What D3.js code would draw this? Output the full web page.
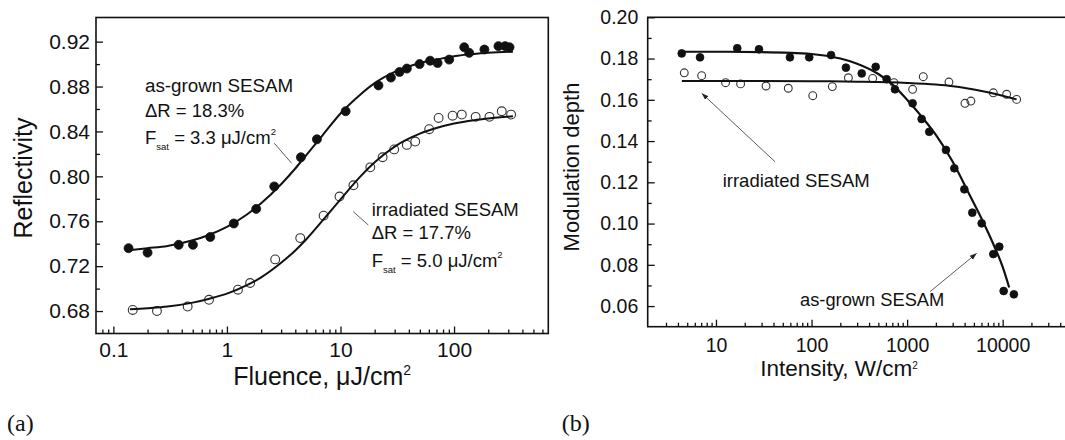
<!DOCTYPE html>
<html>
<head>
<meta charset="utf-8">
<script src="https://cdn.jsdelivr.net/npm/d3@7"></script>
<style>
  body { margin: 0; background: #fff; }
  text { font-family: "Liberation Sans", Arial, sans-serif; fill: #111; }
  .serif { font-family: "Liberation Serif", "Times New Roman", serif; }
</style>
</head>
<body>
<svg id="chart" width="1065" height="440"></svg>
<script>
// ---------- Panel (a): reflectivity vs. fluence ----------
const fluenceAsGrown = [0.136, 0.200, 0.376, 0.502, 0.713, 1.15, 1.81, 2.61, 4.48, 6.2, 11.1, 21.6, 27.8, 33.1, 38.4, 49.7, 61.6, 71.6, 90.6, 123, 136, 185, 246, 282, 308];
const reflAsGrown    = [0.736, 0.732, 0.739, 0.739, 0.746, 0.758, 0.771, 0.791, 0.817, 0.833, 0.858, 0.881, 0.888, 0.893, 0.896, 0.900, 0.903, 0.901, 0.904, 0.915, 0.910, 0.913, 0.916, 0.916, 0.915];

const fluenceIrradiated = [0.148, 0.242, 0.451, 0.695, 1.25, 1.60, 2.66, 4.42, 7.1, 9.8, 13.0, 18.3, 23.5, 29.7, 38.4, 45.5, 60.4, 73.1, 97.1, 117, 155, 205, 263, 318];
const reflIrradiated    = [0.681, 0.680, 0.684, 0.690, 0.699, 0.705, 0.726, 0.745, 0.765, 0.782, 0.792, 0.808, 0.817, 0.824, 0.828, 0.831, 0.842, 0.852, 0.854, 0.855, 0.853, 0.853, 0.858, 0.855];

// saturation fits (ΔR = 18.3 %, Fsat = 3.3 µJ/cm² and ΔR = 17.7 %, Fsat = 5.0 µJ/cm²)
const fitFluenceAsGrown = [0.13, 0.2, 0.3, 0.5, 0.7, 1, 1.5, 2, 3, 4, 5, 7, 10, 15, 20, 30, 50, 70, 100, 150, 200, 330];
const fitReflAsGrown    = [0.734, 0.736, 0.738, 0.743, 0.748, 0.755, 0.766, 0.776, 0.793, 0.807, 0.819, 0.837, 0.856, 0.873, 0.883, 0.893, 0.901, 0.904, 0.907, 0.909, 0.910, 0.911];
const fitFluenceIrradiated = [0.14, 0.2, 0.3, 0.5, 0.7, 1, 1.5, 2, 3, 4, 5, 7, 10, 15, 20, 30, 50, 70, 100, 150, 200, 330];
const fitReflIrradiated    = [0.6815, 0.6825, 0.684, 0.6875, 0.691, 0.6955, 0.703, 0.710, 0.723, 0.734, 0.744, 0.761, 0.7795, 0.800, 0.8125, 0.8265, 0.838, 0.843, 0.847, 0.850, 0.8515, 0.8535];

const fluenceTicks = [0.1, 1, 10, 100];
const reflTicks = [0.68, 0.72, 0.76, 0.80, 0.84, 0.88, 0.92];

// ---------- Panel (b): modulation depth vs. intensity ----------
const intensityAsGrown = [4.38, 6.81, 16.7, 28.2, 59.4, 94.6, 160, 229, 335, 469, 611, 746, 1142, 1420, 1705, 2550, 3120, 3970, 4810, 6030, 7980, 9220, 10240, 13100];
const modAsGrown       = [0.1825, 0.1806, 0.185, 0.1845, 0.1806, 0.1806, 0.1817, 0.1756, 0.1728, 0.176, 0.170, 0.1651, 0.1583, 0.1507, 0.1445, 0.1357, 0.1268, 0.1166, 0.1053, 0.1001, 0.0852, 0.0888, 0.0673, 0.0657];

const intensityIrradiated = [4.66, 7.08, 12.6, 18.1, 33.4, 57.1, 103, 165, 243, 436, 728, 1142, 1476, 2740, 4030, 4650, 7980, 11000, 14000];
const modIrradiated       = [0.1731, 0.1717, 0.1683, 0.1677, 0.1667, 0.1656, 0.162, 0.1664, 0.1707, 0.1704, 0.1683, 0.1651, 0.1712, 0.1686, 0.1583, 0.1594, 0.1634, 0.1627, 0.1602];

const fitIntensityAsGrown = [4.4, 10, 30, 100, 200, 300, 500, 700, 1000, 1500, 2000, 3000, 4500, 6000, 8000, 10000, 11700];
const fitModAsGrown       = [0.1833, 0.1833, 0.1831, 0.1822, 0.1800, 0.1775, 0.1725, 0.1675, 0.1600, 0.1505, 0.1430, 0.1300, 0.1140, 0.1025, 0.0900, 0.0790, 0.0690];
const fitIntensityIrradiated = [4.4, 30, 100, 300, 1000, 2000, 3000, 5000, 7000, 10000, 14000];
const fitModIrradiated       = [0.1691, 0.1691, 0.1690, 0.1688, 0.1682, 0.1674, 0.1666, 0.1650, 0.1637, 0.1620, 0.1602];

const intensityTicks = [10, 100, 1000, 10000];
const modTicks = [0.06, 0.08, 0.10, 0.12, 0.14, 0.16, 0.18, 0.20];

// ---------- layout ----------
const svg = d3.select("#chart");
const frameA = { left: 96, right: 548.3, top: 17.5, bottom: 333.5 };
const frameB = { left: 647.7, right: 1085, top: 17.3, bottom: 326.7 };

const xA = d3.scaleLog().domain([0.0703, 676]).range([frameA.left, frameA.right]);
const yA = d3.scaleLinear().domain([0.66, 0.9415]).range([frameA.bottom, frameA.top]);
const xB = d3.scaleLog().domain([1.93, 72700]).range([frameB.left, frameB.right]);
const yB = d3.scaleLinear().domain([0.05, 0.20]).range([frameB.bottom, frameB.top]);

function minorLogTicks(lo, hi) {
  const out = [];
  for (let p = Math.floor(Math.log10(lo)); p <= Math.ceil(Math.log10(hi)); p++) {
    for (let m = 2; m <= 9; m++) {
      const v = m * Math.pow(10, p);
      if (v > lo && v < hi) out.push(+v.toPrecision(3));
    }
  }
  return out;
}
function minorLinTicks(majors, step) {
  return majors.map(v => +(v + step).toFixed(3)).filter(v => v < majors[majors.length - 1]);
}

function drawAxes(x, y, frame, o) {
  const g = svg.append("g");
  // bottom axis, major & minor ticks pointing inward
  const bx = g.append("g").attr("transform", `translate(0,${frame.bottom})`)
    .call(d3.axisBottom(x).tickValues(o.xTicks).tickFormat(o.xFormat)
      .tickSize(-7).tickPadding(o.xPad));
  const bxm = g.append("g").attr("transform", `translate(0,${frame.bottom})`)
    .call(d3.axisBottom(x).tickValues(o.xMinor).tickFormat("").tickSize(-4));
  const ly = g.append("g").attr("transform", `translate(${frame.left},0)`)
    .call(d3.axisLeft(y).tickValues(o.yTicks).tickFormat(d3.format(".2f"))
      .tickSize(-7).tickPadding(o.yPad));
  const lym = g.append("g").attr("transform", `translate(${frame.left},0)`)
    .call(d3.axisLeft(y).tickValues(o.yMinor).tickFormat("").tickSize(-4));
  [bx, bxm, ly, lym].forEach(a => {
    a.select(".domain").remove();
    a.selectAll(".tick line").attr("stroke", "#111").attr("stroke-width", 1.3);
    a.selectAll(".tick text").attr("fill", "#111").attr("font-size", o.fontSize)
      .style("font-family", '"Liberation Sans", Arial, sans-serif');
  });
  // frame
  g.append("rect")
    .attr("x", frame.left).attr("y", frame.top)
    .attr("width", frame.right - frame.left).attr("height", frame.bottom - frame.top)
    .attr("fill", "none").attr("stroke", "#111").attr("stroke-width", 1.6);
}

drawAxes(xA, yA, frameA, {
  xTicks: fluenceTicks, xFormat: d => (d < 1 ? d3.format(".1f")(d) : d3.format("d")(d)),
  xMinor: minorLogTicks(0.0703, 676), xPad: 9,
  yTicks: reflTicks, yMinor: minorLinTicks(reflTicks, 0.02), yPad: 6,
  fontSize: 21
});
drawAxes(xB, yB, frameB, {
  xTicks: intensityTicks, xFormat: d3.format("d"),
  xMinor: minorLogTicks(2.5, 72700), xPad: 11.5,
  yTicks: modTicks, yMinor: minorLinTicks(modTicks, 0.01), yPad: 9.4,
  fontSize: 19.5
});

// ---------- marks ----------
function zip(xs, ys) { return xs.map((v, i) => [v, ys[i]]); }

function drawSeries(x, y, xs, ys, filled, r) {
  svg.append("g").selectAll("circle").data(zip(xs, ys)).join("circle")
    .attr("cx", d => x(d[0])).attr("cy", d => y(d[1])).attr("r", r)
    .attr("fill", filled ? "#111" : "none")
    .attr("stroke", filled ? "#111" : "#333")
    .attr("stroke-width", filled ? 0.8 : 1.1);
}
function drawFit(x, y, xs, ys, w) {
  const line = d3.line().x(d => x(d[0])).y(d => y(d[1])).curve(d3.curveMonotoneX);
  svg.append("path").datum(zip(xs, ys)).attr("d", line)
    .attr("fill", "none").attr("stroke", "#111").attr("stroke-width", w);
}

drawSeries(xA, yA, fluenceAsGrown, reflAsGrown, true, 4.5);
drawSeries(xA, yA, fluenceIrradiated, reflIrradiated, false, 4.4);
drawFit(xA, yA, fitFluenceAsGrown, fitReflAsGrown, 2);
drawFit(xA, yA, fitFluenceIrradiated, fitReflIrradiated, 2);

drawSeries(xB, yB, intensityAsGrown, modAsGrown, true, 3.9);
drawSeries(xB, yB, intensityIrradiated, modIrradiated, false, 3.9);
drawFit(xB, yB, fitIntensityAsGrown, fitModAsGrown, 2.2);
drawFit(xB, yB, fitIntensityIrradiated, fitModIrradiated, 2);

// ---------- annotations ----------
const defs = svg.append("defs");
defs.append("marker").attr("id", "head").attr("viewBox", "0 0 10 10")
  .attr("refX", 10).attr("refY", 5).attr("markerWidth", 7).attr("markerHeight", 7)
  .attr("markerUnits", "userSpaceOnUse").attr("orient", "auto")
  .append("path").attr("d", "M0,1.5 L10,5 L0,8.5 Z").attr("fill", "#222");

function label(xp, yp, str, size) {
  return svg.append("text").attr("x", xp).attr("y", yp).attr("font-size", size).text(str);
}
function fsatLabel(xp, yp, value) {
  const t = svg.append("text").attr("x", xp).attr("y", yp).attr("font-size", 18.5);
  t.append("tspan").text("F");
  t.append("tspan").attr("font-size", 9.5).attr("dy", 6).text("sat");
  t.append("tspan").attr("dy", -6).text(` = ${value} \u03BCJ/cm`);
  t.append("tspan").attr("font-size", 9.5).attr("dy", -9).text("2");
}
function leader(x1, y1, x2, y2, arrow) {
  const l = svg.append("line").attr("x1", x1).attr("y1", y1).attr("x2", x2).attr("y2", y2)
    .attr("stroke", "#333").attr("stroke-width", 0.8);
  if (arrow) l.attr("marker-end", "url(#head)");
}

label(145, 92, "as-grown SESAM", 18.8);
label(145, 116.7, "\u0394R = 18.3%", 18.5);
fsatLabel(145, 144, "3.3");
leader(274.3, 143.3, 291.7, 163.3, false);

label(371.7, 215.5, "irradiated SESAM", 18.5);
label(371.7, 239, "\u0394R = 17.7%", 18.5);
fsatLabel(371.7, 267, "5.0");
leader(353.3, 211.7, 368.3, 225, false);

label(722.7, 186.5, "irradiated SESAM", 18.5);
leader(775, 161.7, 701.7, 93.3, true);
label(800, 306, "as-grown SESAM", 18.3);
leader(930, 291.7, 976.7, 253.3, true);

// axis titles
const tA = svg.append("text").attr("x", (frameA.left + frameA.right) / 2).attr("y", 385)
  .attr("text-anchor", "middle").attr("font-size", 25);
tA.append("tspan").text("Fluence, \u03BCJ/cm");
tA.append("tspan").attr("font-size", 14).attr("dy", -10).text("2");

svg.append("text").attr("transform", "translate(32,178) rotate(-90)")
  .attr("text-anchor", "middle").attr("font-size", 25).text("Reflectivity");

const tB = svg.append("text").attr("x", 839).attr("y", 376)
  .attr("text-anchor", "middle").attr("font-size", 22.5);
tB.append("tspan").text("Intensity, W/cm");
tB.append("tspan").attr("font-size", 10).attr("dy", -7).text("2");

svg.append("text").attr("transform", "translate(579,167) rotate(-90)")
  .attr("text-anchor", "middle").attr("font-size", 22).text("Modulation depth");

// panel letters
svg.append("text").attr("class", "serif").attr("x", 7).attr("y", 431).attr("font-size", 24).text("(a)");
svg.append("text").attr("class", "serif").attr("x", 561.7).attr("y", 431).attr("font-size", 24).text("(b)");
</script>
</body>
</html>
